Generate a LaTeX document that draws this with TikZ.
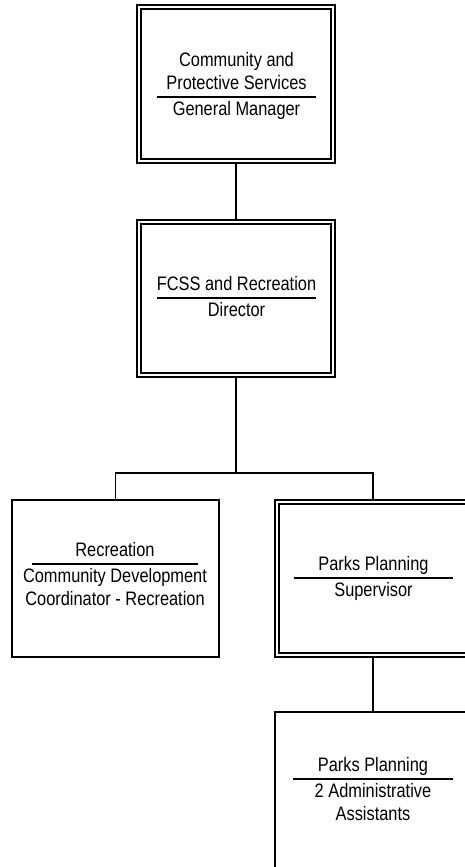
\documentclass[tikz,border=0pt]{standalone}
\usepackage{fontspec}
\setmainfont[FakeStretch=0.84]{Liberation Sans}
\usetikzlibrary{positioning,calc}

\begin{document}
\begin{tikzpicture}[
  x=1pt,y=-1pt,
  line width=1.4pt,
  every node/.style={font=\fontsize{19.5}{23}\selectfont},
  post/.style={draw,rectangle,inner sep=0pt},
  mainpost/.style={post,double,line width=1.2pt,double distance=2.8pt},
  posttitle/.style={anchor=south,align=center,inner sep=0pt,text depth=0pt},
  postrole/.style={anchor=north,align=center,inner sep=0pt},
  divider/.style={line width=1.5pt}
]
\useasboundingbox (0,0) rectangle (465,867);
\clip (0,0) rectangle (465,867);

% boxes
\node[mainpost,minimum width=194pt,minimum height=154pt] (gm)    at (236,84)    {};
\node[mainpost,minimum width=194pt,minimum height=153pt] (dir)   at (236,298.5) {};
\node[post,minimum width=207pt,minimum height=157pt]     (rec)   at (115.5,578.5) {};
\node[mainpost,minimum width=192pt,minimum height=153pt] (parks) at (373,578.5) {};
\node[post,minimum width=196pt,minimum height=160pt]     (admin) at (373,792)   {};

% dividing rules
\coordinate (gmRule)    at (236.5,97);
\coordinate (dirRule)   at (236.5,298);
\coordinate (recRule)   at (115,564);
\coordinate (parksRule) at (373.5,578);
\coordinate (adminRule) at (373,779);

\foreach \r/\w in {gmRule/159,dirRule/159,recRule/166,parksRule/159,adminRule/160}{
  \draw[divider] ([xshift=-\w/2*1pt]\r) -- ([xshift=\w/2*1pt]\r);
}

% texts
\node[posttitle] (gmTitle)    at ([yshift=6.5pt]gmRule)    {Community and\\Protective Services};
\node[postrole]  (gmRole)     at ([yshift=-4pt]gmRule)     {General Manager};
\node[posttitle] (dirTitle)   at ([yshift=6.5pt]dirRule)   {FCSS and Recreation};
\node[postrole]  (dirRole)    at ([yshift=-4pt]dirRule)    {Director};
\node[posttitle] (recTitle)   at ([yshift=6.5pt]recRule)   {Recreation};
\node[postrole]  (recRole)    at ([yshift=-4pt]recRule)    {Community Development\\Coordinator - Recreation};
\node[posttitle] (parksTitle) at ([yshift=6.5pt]parksRule) {Parks Planning};
\node[postrole]  (parksRole)  at ([yshift=-4pt]parksRule)  {Supervisor};
\node[posttitle] (adminTitle) at ([yshift=6.5pt]adminRule) {Parks Planning};
\node[postrole]  (adminRole)  at ([yshift=-4pt]adminRule)  {2 Administrative\\Assistants};

% connectors
\coordinate (split) at (236,473);
\draw (gm.south) -- (dir.north);
\draw (dir.south) -- (split);
\draw (rec.north) |- (split) -| (parks.north);
\draw (parks.south) -- (admin.north);

\end{tikzpicture}
\end{document}
